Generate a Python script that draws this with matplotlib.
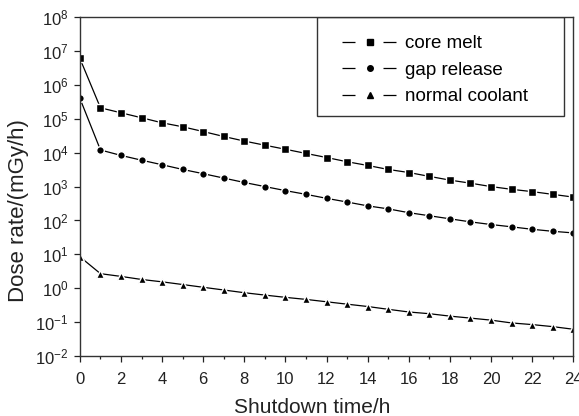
import matplotlib
matplotlib.use("Agg")
from matplotlib import pyplot as plt
from matplotlib.lines import Line2D
from matplotlib.patches import Rectangle
from matplotlib.ticker import FixedLocator, MultipleLocator, NullLocator

plt.rcParams['font.family'] = ['Liberation Sans', 'DejaVu Sans']

hours = list(range(25))

core_melt = [6.0e6, 2.1e5, 1.5e5, 1.07e5, 7.6e4, 5.8e4, 4.2e4, 3.0e4, 2.2e4,
             1.66e4, 1.26e4, 9.5e3, 7.2e3, 5.4e3, 4.2e3, 3.2e3, 2.6e3, 2.0e3,
             1.55e3, 1.26e3, 1.0e3, 830, 710, 590, 490]
gap_release = [4.0e5, 1.2e4, 8.3e3, 6.0e3, 4.4e3, 3.2e3, 2.4e3, 1.78e3, 1.32e3,
               1.0e3, 760, 590, 450, 350, 270, 220, 170, 138, 112, 91, 76, 65,
               55, 48, 43]
normal_coolant = [8.5, 2.7, 2.24, 1.82, 1.55, 1.29, 1.07, 0.89, 0.74, 0.63,
                  0.54, 0.47, 0.40, 0.34, 0.29, 0.24, 0.20, 0.178, 0.151,
                  0.132, 0.115, 0.095, 0.085, 0.074, 0.062]

names = ["core melt", "gap release", "normal coolant"]
markers = ["s", "o", "^"]
values = [core_melt, gap_release, normal_coolant]

ink = "#222222"

fig = plt.figure(figsize=(5.79, 4.16), dpi=100)
ax = fig.add_axes([0.138, 0.144, 0.852, 0.815])

for vals, mk in zip(values, markers):
    ax.plot(hours, vals, color="black", lw=0.9, marker=mk, markersize=5.5,
            markerfacecolor="black", markeredgecolor="white",
            markeredgewidth=1.0)

ax.set_yscale("log")
ax.set_xlim(0, 24)
ax.set_ylim(1e-2, 1e8)

ax.xaxis.set_major_locator(MultipleLocator(2))
ax.xaxis.set_minor_locator(MultipleLocator(1))
exps = list(range(-2, 9))
ax.yaxis.set_major_locator(FixedLocator([10.0 ** e for e in exps]))
ax.yaxis.set_minor_locator(NullLocator())
ax.set_yticklabels([r"$\mathregular{10^{%d}}$" % e for e in exps])

ax.tick_params(axis="both", which="major", direction="out", length=4.5,
               width=0.9, labelsize=12, colors=ink)
ax.tick_params(axis="x", which="minor", direction="out", length=2.5,
               width=0.9, colors=ink)
ax.tick_params(axis="x", pad=7)

for sp in ax.spines.values():
    sp.set_linewidth(1.0)
    sp.set_color("#333333")

ax.set_xlabel("Shutdown time/h", fontsize=15, color=ink, labelpad=5)
ax.xaxis.set_label_coords(0.47, -0.125)
ax.set_ylabel("Dose rate/(mGy/h)", fontsize=16, color=ink)
ax.yaxis.set_label_coords(-0.103, 0.43)

# legend: separate frame box, entries drawn with broken line around marker
ax.add_patch(Rectangle((0.480, 0.708), 0.502, 0.292, transform=ax.transAxes,
                       fill=False, edgecolor="#333333", lw=1.0, zorder=5))
handles = [Line2D([], [], color="black", lw=0.9, linestyle=(0, (10.4, 22.4)),
                  marker=mk, markersize=4, markeredgecolor="black")
           for mk in markers]
ax.legend(handles, names, loc="upper left", bbox_to_anchor=(0.532, 0.946),
          fontsize=13.5, frameon=False, handlelength=2.9, handletextpad=0.45,
          borderpad=0.0, borderaxespad=0.0, labelspacing=0.5, numpoints=1)

fig.savefig("out.png", dpi=100)
